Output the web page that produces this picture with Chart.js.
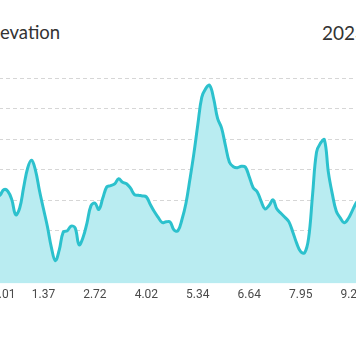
<!DOCTYPE html>
<html>
<head>
<meta charset="utf-8">
<script src="https://cdn.jsdelivr.net/npm/chart.js@4/dist/chart.umd.min.js"></script>
<style>
  html, body { margin: 0; padding: 0; width: 356px; height: 364px; overflow: hidden; background: #fff; }
  .hdr { position: absolute; top: 21px; font-family: Lato, Roboto, sans-serif; font-size: 18.5px; color: #333; white-space: nowrap; }
  #title { left: -15px; }
  #date { left: 322px; font-size: 19px; top: 20.5px; }
  #wrap { position: absolute; left: -12px; top: 70px; width: 380px; height: 236px; }
</style>
</head>
<body>
<div class="hdr" id="title">Elevation</div>
<div class="hdr" id="date">2023-06-18</div>
<div id="wrap"><canvas id="c"></canvas></div>
<script>
// Elevation profile (m), one value per sample
const elevation = [
  80.0, 81.6, 83.3, 87.0, 86.0, 80.5, 70.6, 75.0, 88.5, 101.0,
  106.2, 99.5, 86.3, 74.5, 62.9, 49.3, 40.5, 47.7, 59.2, 60.1,
  63.2, 62.0, 51.0, 55.7, 65.2, 76.4, 78.2, 74.1, 81.5, 88.8,
  89.7, 90.8, 94.2, 91.8, 90.9, 88.0, 83.8, 83.3, 82.9, 82.3,
  77.3, 72.7, 68.9, 65.5, 66.0, 65.9, 60.6, 60.2, 67.5, 78.0,
  93.6, 110.4, 129.4, 147.3, 153.1, 155.2, 146.6, 133.6, 127.4, 115.7,
  104.9, 102.0, 101.4, 102.3, 101.8, 95.5, 88.3, 85.7, 79.5, 74.4,
  76.6, 80.4, 74.3, 71.6, 69.0, 66.1, 59.4, 51.9, 46.5, 45.7,
  55.2, 83.6, 111.5, 117.4, 119.6, 98.3, 84.1, 72.9, 68.6, 65.4,
  68.0, 73.0, 78.2, 81.5, 85.0
];
// Distance labels (km) shown on the x axis, one every `labelEvery` samples
const distanceTicks = ['0.01', '1.37', '2.72', '4.02', '5.34', '6.64', '7.95', '9.26'];
const labelEvery = 13;
// Elevation gridline values (m)
const elevationTicks = [40, 60, 80, 100, 120, 140, 160];
const elevationMin = 25.6;
const elevationMax = 160;

const categories = elevation.map((_, i) => i);

new Chart(document.getElementById('c'), {
  type: 'line',
  data: {
    labels: categories,
    datasets: [{
      data: elevation,
      borderColor: '#2cc1cd',
      backgroundColor: '#b9ecf1',
      borderWidth: 3,
      fill: 'start',
      tension: 0.4,
      pointRadius: 0,
      pointHoverRadius: 0
    }]
  },
  options: {
    responsive: true,
    maintainAspectRatio: false,
    animation: false,
    layout: { autoPadding: false, padding: { top: 8, left: 0, right: 0, bottom: 0 } },
    plugins: { legend: { display: false }, tooltip: { enabled: false }, title: { display: false } },
    scales: {
      x: {
        grid: { display: false, drawTicks: false },
        border: { display: false },
        ticks: {
          autoSkip: false,
          maxRotation: 0,
          minRotation: 0,
          align: 'inner',
          padding: 4,
          color: '#4a4a4a',
          font: { family: 'Roboto', size: 12 },
          callback: (v, i) => (i % labelEvery === 0 && distanceTicks[i / labelEvery] !== undefined) ? distanceTicks[i / labelEvery] : ''
        }
      },
      y: {
        min: elevationMin,
        max: elevationMax,
        afterBuildTicks: (axis) => { axis.ticks = elevationTicks.map(v => ({ value: v })); },
        grid: { color: 'rgba(0,0,0,0.16)', drawTicks: false, lineWidth: 1 },
        border: { display: false, dash: [4, 3] },
        ticks: { display: false }
      }
    }
  }
});
</script>
</body>
</html>
